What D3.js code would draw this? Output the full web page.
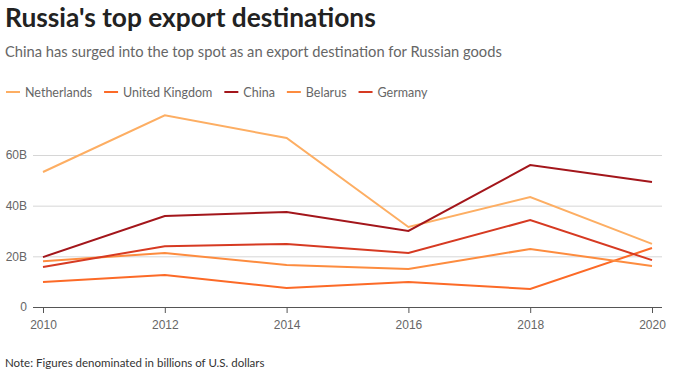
<!DOCTYPE html>
<html>
<head>
<meta charset="utf-8">
<script src="https://cdn.jsdelivr.net/npm/d3@7"></script>
<style>
  body { margin: 0; background: #fff; font-family: Lato, "Noto Sans", sans-serif; }
  #svg-container { width: 678px; height: 374px; }
  .x-axis text, .y-axis text { fill: #666; font-size: 12px; }
  .y-axis .domain { display: none; }
</style>
</head>
<body>
<div id="svg-container"></div>
<script>
// data
const years = [2010, 2012, 2014, 2016, 2018, 2020];
const netherlands = [53.3, 75.7, 66.7, 31.6, 43.4, 24.9];
const unitedKingdom = [9.9, 12.6, 7.5, 9.9, 7.1, 23.3];
const china = [19.7, 35.9, 37.5, 30.0, 56.0, 49.3];
const belarus = [18.1, 21.3, 16.6, 15.0, 22.9, 16.2];
const germany = [15.8, 24.0, 24.9, 21.3, 34.3, 18.5];
const yTicks = [0, 20, 40, 60];

const series = [
  { name: "Netherlands", values: netherlands, color: "#fdae63" },
  { name: "United Kingdom", values: unitedKingdom, color: "#fc6a27" },
  { name: "China", values: china, color: "#a3161b" },
  { name: "Belarus", values: belarus, color: "#fd8c3f" },
  { name: "Germany", values: germany, color: "#d63a22" },
];

const width = 678;
const height = 374;
const margin = { top: 105, right: 26, bottom: 67, left: 43 };

const svg = d3.select("#svg-container").append("svg")
  .attr("width", width).attr("height", height);

// titles
svg.append("text").attr("x", 5).attr("y", 27)
  .attr("font-size", 26.3).attr("font-weight", 700).attr("fill", "#222")
  .text("Russia's top export destinations");
svg.append("text").attr("x", 5).attr("y", 57)
  .attr("font-size", 14.7).attr("fill", "#666")
  .text("China has surged into the top spot as an export destination for Russian goods");
svg.append("text").attr("x", 5).attr("y", 367)
  .attr("font-size", 11.5).attr("fill", "#333")
  .text("Note: Figures denominated in billions of U.S. dollars");

// scale
const xScale = d3.scaleLinear().domain([2010, 2020]).range([margin.left, width - margin.right]);
const yScale = d3.scaleLinear().domain([0, 60]).range([307, 155]);

// grid + y axis
const yAxis = d3.axisLeft(yScale)
  .tickValues(yTicks)
  .tickFormat(d => d === 0 ? "0" : d + "B")
  .tickSize(-(width - margin.right + 10 - 33))
  .tickPadding(6);

svg.append("g")
  .attr("class", "y-axis")
  .attr("transform", `translate(33,0)`)
  .call(yAxis)
  .call(g => g.selectAll(".tick line").attr("stroke", "#d6d6d6"))
  .call(g => g.selectAll(".tick").filter(d => d === 0).select("line").attr("stroke", "#555"));

// x axis
const xAxis = d3.axisBottom(xScale)
  .tickValues(years)
  .tickFormat(d3.format("d"))
  .tickSize(6)
  .tickPadding(7)
  .tickSizeOuter(0);

svg.append("g")
  .attr("class", "x-axis")
  .attr("transform", `translate(0, 307)`)
  .call(xAxis)
  .call(g => g.select(".domain").remove())
  .call(g => g.selectAll(".tick line").attr("stroke", "#555"));

// lines
const line = d3.line()
  .x((d, i) => xScale(years[i]))
  .y(d => yScale(d));

series.forEach(s => {
  svg.append("path")
    .datum(s.values)
    .attr("d", line)
    .attr("fill", "none")
    .attr("stroke", s.color)
    .attr("stroke-width", 2);
});

// legend
const legend = svg.append("g").attr("transform", "translate(6, 92)");
let lx = 0;
series.forEach(s => {
  const g = legend.append("g").attr("transform", `translate(${lx},0)`);
  g.append("line").attr("x1", 0).attr("x2", 14).attr("y1", 0).attr("y2", 0)
    .attr("stroke", s.color).attr("stroke-width", 2);
  const t = g.append("text").attr("x", 19).attr("y", 4.5)
    .attr("font-size", 12.5).attr("fill", "#666").text(s.name);
  lx += 19 + t.node().getComputedTextLength() + 12;
});
</script>
</body>
</html>
